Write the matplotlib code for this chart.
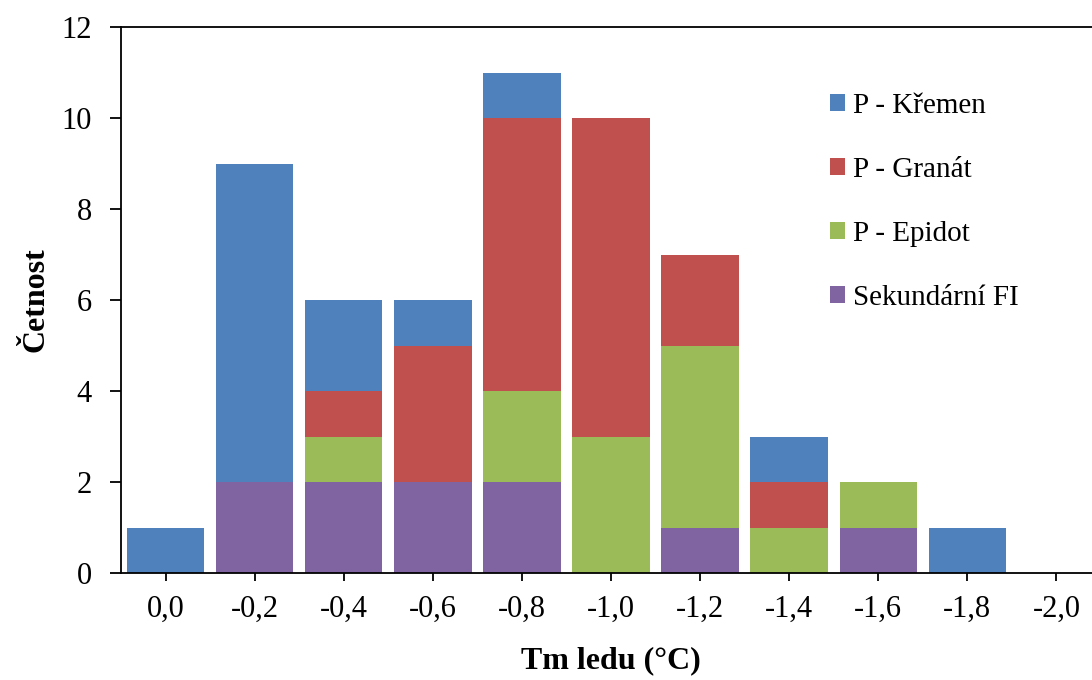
import matplotlib
matplotlib.use("Agg")
import matplotlib.pyplot as plt
import numpy as np

categories = ["0,0", "-0,2", "-0,4", "-0,6", "-0,8", "-1,0", "-1,2", "-1,4", "-1,6", "-1,8", "-2,0"]
sekundarni = [0, 2, 2, 2, 2, 0, 1, 0, 1, 0, 0]
epidot     = [0, 0, 1, 0, 2, 3, 4, 1, 1, 0, 0]
granat     = [0, 0, 1, 3, 6, 7, 2, 1, 0, 0, 0]
kremen     = [1, 7, 2, 1, 1, 0, 0, 1, 0, 1, 0]

series = [
    ("Sekundární FI", sekundarni, "#8064A2"),
    ("P - Epidot", epidot, "#9BBB59"),
    ("P - Granát", granat, "#C0504D"),
    ("P - Křemen", kremen, "#4F81BD"),
]

plt.rcParams['font.family'] = ['Liberation Serif', 'DejaVu Serif']

fig = plt.figure(figsize=(10.92, 6.8), dpi=100)
W, H = 1092, 680
ax = fig.add_axes([121 / W, (H - 573) / H, (1101 - 121) / W, (573 - 27) / H])

x = np.arange(len(categories))
bottom = np.zeros(len(categories))
handles = {}
for name, vals, col in series:
    b = ax.bar(x, vals, width=0.87, bottom=bottom, color=col, label=name, linewidth=0)
    handles[name] = b
    bottom += np.array(vals)

ax.set_xlim(-0.5, 10.5)
ax.set_ylim(0, 12)
ax.set_yticks(range(0, 13, 2))
ax.set_xticks(x)
ax.set_xticklabels(categories)
ax.tick_params(axis='both', labelsize=22, direction='out', width=1.3, colors='black')
ax.tick_params(axis='x', pad=10, length=6)
ax.tick_params(axis='y', pad=13, length=8)
for s in ['left', 'bottom', 'top', 'right']:
    ax.spines[s].set_linewidth(1.3)

ax.set_xlabel("Tm ledu (°C)", fontsize=23, fontweight='bold', labelpad=16)
ax.set_ylabel("Četnost", fontsize=23, fontweight='bold', labelpad=8)

order = ["P - Křemen", "P - Granát", "P - Epidot", "Sekundární FI"]
leg = ax.legend([handles[n] for n in order], order, loc='upper left',
                bbox_to_anchor=((830 - 121) / 980, (573 - 93) / 546), frameon=False, fontsize=21,
                handlelength=0.5, handleheight=0.5, handletextpad=0.3,
                labelspacing=1.3, borderpad=0, borderaxespad=0)

fig.savefig("out.png", dpi=100)
